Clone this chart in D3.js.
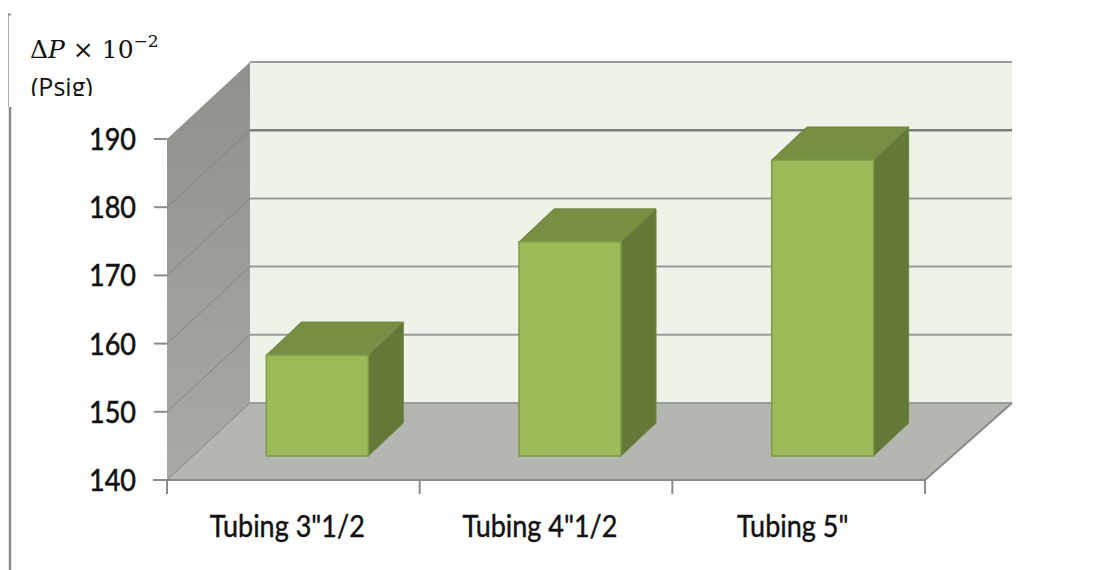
<!DOCTYPE html>
<html>
<head>
<meta charset="utf-8">
<script src="https://cdn.jsdelivr.net/npm/d3@7/dist/d3.min.js"></script>
<style>
html,body{margin:0;padding:0;background:#fff}
svg{display:block}
</style>
</head>
<body>
<svg id="chart" width="1096" height="570"></svg>
<script>
// Pressure drop per tubing size
const categories = ['Tubing 3"1/2', 'Tubing 4"1/2', 'Tubing 5"'];
const pressureDrop = [154.8, 171.4, 183.4];
const yTicks = [140, 150, 160, 170, 180, 190];

const svg = d3.select('#chart');
const defs = svg.append('defs');

const y = d3.scaleLinear().domain([140, 190]).range([480, 139]);
const x = d3.scaleBand().domain(categories).range([167, 925]);
const wallDepth = {dx: 83, dy: -77};
const barShift = {dx: 24, dy: -24};
const barDepth = {dx: 35, dy: -33};
const barWidth = 102;
const backRight = 1012;

const line = d3.line();
const poly = pts => line(pts) + 'Z';

const wallFill = defs.append('linearGradient').attr('id', 'wall')
  .attr('x1', 0).attr('x2', 0).attr('y1', 0).attr('y2', 1);
wallFill.append('stop').attr('offset', 0).attr('stop-color', '#8f918d');
wallFill.append('stop').attr('offset', 1).attr('stop-color', '#a8aaa6');

const clipTitle = defs.append('clipPath').attr('id', 'titleClip');
clipTitle.append('rect').attr('x', 0).attr('y', 0).attr('width', 300).attr('height', 96);

// Page rule at far left
svg.append('path').attr('d', 'M8.5,15V107').attr('stroke', '#b0b0b0').attr('stroke-width', 1).attr('fill', 'none');
svg.append('path').attr('d', 'M8,14.5H11').attr('stroke', '#8a8a8a').attr('stroke-width', 2);
svg.append('path').attr('d', 'M10,107V570').attr('stroke', '#8a8a8a').attr('stroke-width', 2.5);

// Back wall
const y0 = y(140), yTop = y(190);
svg.append('path')
  .attr('d', poly([[167 + wallDepth.dx, yTop + wallDepth.dy], [backRight, yTop + wallDepth.dy],
                   [backRight, y0 + wallDepth.dy], [167 + wallDepth.dx, y0 + wallDepth.dy]]))
  .attr('fill', '#eef3ea');

// Left wall
svg.append('path')
  .attr('d', poly([[167, yTop], [167 + wallDepth.dx, yTop + wallDepth.dy],
                   [167 + wallDepth.dx, y0 + wallDepth.dy], [167, y0]]))
  .attr('fill', 'url(#wall)');

// Floor
svg.append('path')
  .attr('d', poly([[167, y0], [167 + wallDepth.dx, y0 + wallDepth.dy],
                   [backRight, y0 + wallDepth.dy], [925, y0]]))
  .attr('fill', '#b4b6b2');

// Gridlines running along the left wall and the back wall
const grid = svg.append('g').attr('fill', 'none');
yTicks.forEach(t => {
  const yf = y(t), yb = yf + wallDepth.dy;
  const heavy = t === 180;
  if (t !== 190) {
    grid.append('path')
      .attr('d', line([[167, yf], [167 + wallDepth.dx, yb]]))
      .attr('stroke', '#838581').attr('stroke-width', 1);
  }
  grid.append('path')
    .attr('d', line([[167 + wallDepth.dx, yb], [backRight, yb]]))
    .attr('stroke', heavy ? '#7c7e7a' : '#9a9c98')
    .attr('stroke-width', heavy ? 2.6 : 2);
});

// Floor's front and right edges, axis ticks
const axis = svg.append('g').attr('fill', 'none').attr('stroke', '#8a8c88').attr('stroke-width', 2);
axis.append('path').attr('d', line([[153, y0], [925, y0]]));
axis.append('path').attr('d', line([[925, y0], [backRight, y0 + wallDepth.dy]]));
yTicks.forEach(t => axis.append('path').attr('d', line([[154, y(t)], [167, y(t)]])));
x.domain().concat(['end']).forEach((c, i) => {
  const tx = 167 + i * x.bandwidth();
  axis.append('path').attr('d', line([[tx, y0], [tx, y0 + 14]]));
});

// 3D bars
const bars = svg.append('g').selectAll('g').data(categories).join('g');
bars.each(function (c, i) {
  const g = d3.select(this);
  const left = x(c) + x.bandwidth() / 2 - barWidth / 2 + barShift.dx;
  const right = left + barWidth;
  const bottom = y(140) + barShift.dy;
  const top = y(pressureDrop[i]) + barShift.dy;
  const d = barDepth;
  g.append('path')
    .attr('d', poly([[right, top], [right + d.dx, top + d.dy], [right + d.dx, bottom + d.dy], [right, bottom]]))
    .attr('fill', '#647837').attr('stroke', '#6f8640').attr('stroke-width', 1);
  g.append('path')
    .attr('d', poly([[left, top], [left + d.dx, top + d.dy], [right + d.dx, top + d.dy], [right, top]]))
    .attr('fill', '#778f42').attr('stroke', '#708840').attr('stroke-width', 1);
  g.append('path')
    .attr('d', poly([[left, top], [right, top], [right, bottom], [left, bottom]]))
    .attr('fill', '#9bbb59').attr('stroke', '#7d9a46').attr('stroke-width', 1.5);
});

// Tick labels, drawn a little taller than the font's own proportions
svg.append('g').selectAll('text').data(yTicks).join('text')
  .attr('transform', d => `translate(136,${y(d) + 11}) scale(1,1.14)`)
  .attr('text-anchor', 'end')
  .attr('font-family', 'Lato, sans-serif')
  .attr('font-size', 27)
  .attr('fill', '#111').attr('stroke', '#111').attr('stroke-width', 0.5)
  .text(d => d);

svg.append('g').selectAll('text').data(categories).join('text')
  .attr('transform', c => `translate(${x(c) + x.bandwidth() / 2 - 6},537) scale(1,1.12)`)
  .attr('text-anchor', 'middle')
  .attr('font-family', 'Lato, sans-serif')
  .attr('font-size', 27)
  .attr('fill', '#111').attr('stroke', '#111').attr('stroke-width', 0.4)
  .text(c => c);

// Unit title
const title = svg.append('text').attr('x', 30).attr('y', 58)
  .attr('font-family', '"DejaVu Serif", serif').attr('font-size', 25).attr('fill', '#111');
title.append('tspan').text('Δ');
title.append('tspan').attr('font-style', 'italic').text('P');
title.append('tspan').text(' × 10');
title.append('tspan').attr('dy', -11).attr('font-size', 17).text('−2');

svg.append('g').attr('clip-path', 'url(#titleClip)')
  .append('text').attr('x', 31).attr('y', 96)
  .attr('font-family', '"Open Sans", sans-serif').attr('font-size', 25).attr('fill', '#111')
  .text('(Psig)');
</script>
</body>
</html>
